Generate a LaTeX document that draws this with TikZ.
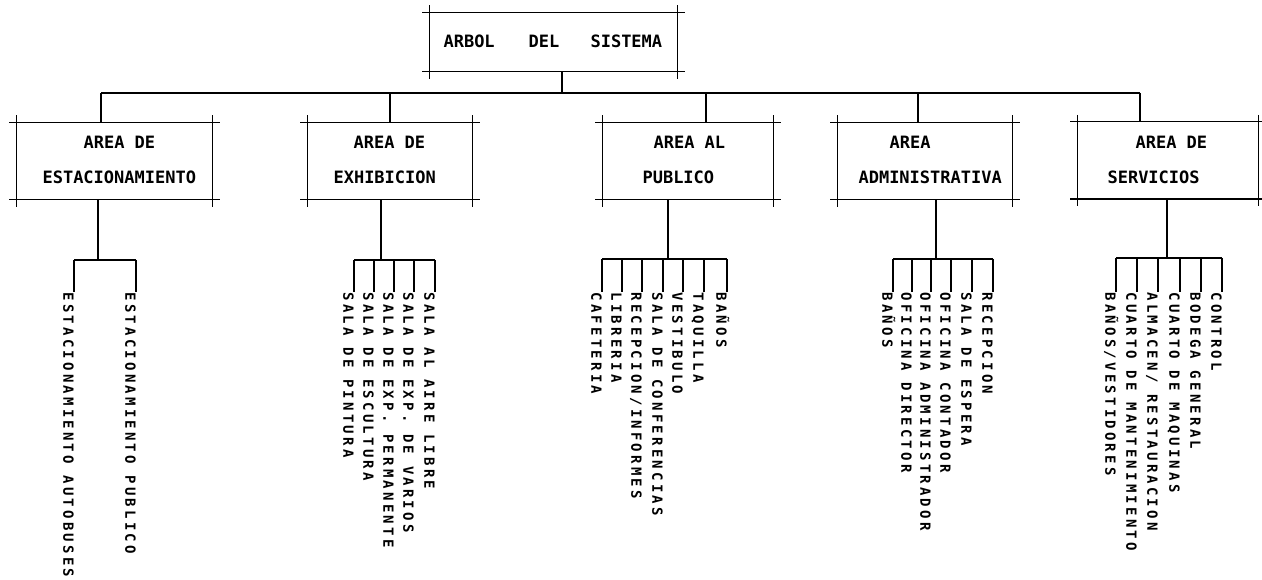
\documentclass[tikz,border=0pt]{standalone}
\usepackage{fontspec}
\newfontfamily\boxfont{DejaVu Sans Mono}
\newfontfamily\leaffont[LetterSpace=23]{DejaVu Sans Mono}
\begin{document}
\begin{tikzpicture}[x=1pt,y=-1pt,line width=1.1pt,
  xbox/.style={draw=none, inner sep=0pt, append after command={
    ([xshift=-7pt]\tikzlastnode.north west) edge ([xshift=7pt]\tikzlastnode.north east)
    ([xshift=-7pt]\tikzlastnode.south west) edge ([xshift=7pt]\tikzlastnode.south east)
    ([yshift=7pt]\tikzlastnode.north west) edge ([yshift=-7pt]\tikzlastnode.south west)
    ([yshift=7pt]\tikzlastnode.north east) edge ([yshift=-7pt]\tikzlastnode.south east)
  }},
  btext/.style={anchor=base west, inner sep=0pt, font=\boxfont\bfseries\fontsize{17pt}{20pt}\selectfont},
  leaf/.style={rotate=-90, anchor=north west, inner sep=0pt, text height=10.2pt, text depth=0pt,
    font=\leaffont\bfseries\fontsize{14pt}{16pt}\selectfont}]
\useasboundingbox[fill=white] (0,0) rectangle (1262,580);

% ---- boxes
\node[xbox, minimum width=247pt, minimum height=58pt] (top) at (553.5,42) {};
\node[xbox, minimum width=195pt, minimum height=76pt] (est) at (114.5,161) {};
\node[xbox, minimum width=164pt, minimum height=76pt] (exh) at (390,161) {};
\node[xbox, minimum width=170pt, minimum height=76pt] (pub) at (688,161) {};
\node[xbox, minimum width=174pt, minimum height=76pt] (adm) at (925,161) {};
\node[xbox, minimum width=180pt, minimum height=76pt] (ser) at (1168,160.5) {};

% ---- box texts
\node[btext] (top-a) at (443,48) {ARBOL};
\node[btext] (top-b) at (528,48) {DEL};
\node[btext] (top-c) at (590,48) {SISTEMA};
\node[btext] (est-1) at (83,149) {AREA DE};
\node[btext] (est-2) at (42,184) {ESTACIONAMIENTO};
\node[btext] (exh-1) at (353,149) {AREA DE};
\node[btext] (exh-2) at (333,184) {EXHIBICION};
\node[btext] (pub-1) at (653,149) {AREA AL};
\node[btext] (pub-2) at (642,184) {PUBLICO};
\node[btext] (adm-1) at (889,149) {AREA};
\node[btext] (adm-2) at (858,184) {ADMINISTRATIVA};
\node[btext] (ser-1) at (1135,149) {AREA DE};
\node[btext] (ser-2) at (1107,184) {SERVICIOS};

% ---- top level connectors
\coordinate (tS) at (562,93);
\coordinate (dE) at (101,93);
\coordinate (dX) at (390,93);
\coordinate (dP) at (706,93);
\coordinate (dA) at (918,93);
\coordinate (dR) at (1140,93);
\draw (top.south -| tS) -- (tS);
\draw (dE) -- (dR);
\draw (dE) -- (dE |- est.north);
\draw (dX) -- (dX |- exh.north);
\draw (dP) -- (dP |- pub.north);
\draw (dA) -- (dA |- adm.north);
\draw (dR) -- (dR |- ser.north);

% ---- estacionamiento
\coordinate (eS) at (98,260);
\node[leaf] (e1) at (74,292) {ESTACIONAMIENTO AUTOBUSES};
\node[leaf] (e2) at (136,292) {ESTACIONAMIENTO PUBLICO};
\draw (est.south -| eS) -- (eS);
\draw (e1.north west |- eS) -- (e2.north west |- eS);
\foreach \n in {e1,e2} \draw (\n.north west |- eS) -- (\n.north west);

% ---- exhibicion
\coordinate (xS) at (381,260);
\node[leaf] (x1) at (354,292) {SALA DE PINTURA};
\node[leaf] (x2) at (374,292) {SALA DE ESCULTURA};
\node[leaf] (x3) at (394,292) {SALA DE EXP. PERMANENTE};
\node[leaf] (x4) at (414,292) {SALA DE EXP. DE VARIOS};
\node[leaf] (x5) at (435,292) {SALA AL AIRE LIBRE};
\draw (exh.south -| xS) -- (xS);
\draw (x1.north west |- xS) -- (x5.north west |- xS);
\foreach \n in {x1,x2,x3,x4,x5} \draw (\n.north west |- xS) -- (\n.north west);

% ---- publico
\coordinate (pS) at (668,259);
\node[leaf] (p1) at (602,292) {CAFETERIA};
\node[leaf] (p2) at (622,292) {LIBRERIA};
\node[leaf] (p3) at (642,292) {RECEPCION/INFORMES};
\node[leaf] (p4) at (663,292) {SALA DE CONFERENCIAS};
\node[leaf] (p5) at (683,292) {VESTIBULO};
\node[leaf] (p6) at (704,292) {TAQUILLA};
\node[leaf] (p7) at (727,292) {BAÑOS};
\draw (pub.south -| pS) -- (pS);
\draw (p1.north west |- pS) -- (p7.north west |- pS);
\foreach \n in {p1,p2,p3,p4,p5,p6,p7} \draw (\n.north west |- pS) -- (\n.north west);

% ---- administrativa
\coordinate (aS) at (936,259);
\node[leaf] (a1) at (893,292) {BAÑOS};
\node[leaf] (a2) at (912,292) {OFICINA DIRECTOR};
\node[leaf] (a3) at (931,292) {OFICINA ADMINISTRADOR};
\node[leaf] (a4) at (951,292) {OFICINA CONTADOR};
\node[leaf] (a5) at (972,292) {SALA DE ESPERA};
\node[leaf] (a6) at (993,292) {RECEPCION};
\draw (adm.south -| aS) -- (aS);
\draw (a1.north west |- aS) -- (a6.north west |- aS);
\foreach \n in {a1,a2,a3,a4,a5,a6} \draw (\n.north west |- aS) -- (\n.north west);

% ---- servicios
\coordinate (sS) at (1167,258);
\node[leaf] (s1) at (1116,292) {BAÑOS/VESTIDORES};
\node[leaf] (s2) at (1137,292) {CUARTO DE MANTENIMIENTO};
\node[leaf] (s3) at (1158,292) {ALMACEN/ RESTAURACION};
\node[leaf] (s4) at (1180,292) {CUARTO DE MAQUINAS};
\node[leaf] (s5) at (1201,292) {BODEGA GENERAL};
\node[leaf] (s6) at (1222,292) {CONTROL};
\draw (ser.south -| sS) -- (sS);
\draw (s1.north west |- sS) -- (s6.north west |- sS);
\foreach \n in {s1,s2,s3,s4,s5,s6} \draw (\n.north west |- sS) -- (\n.north west);
\end{tikzpicture}
\end{document}
